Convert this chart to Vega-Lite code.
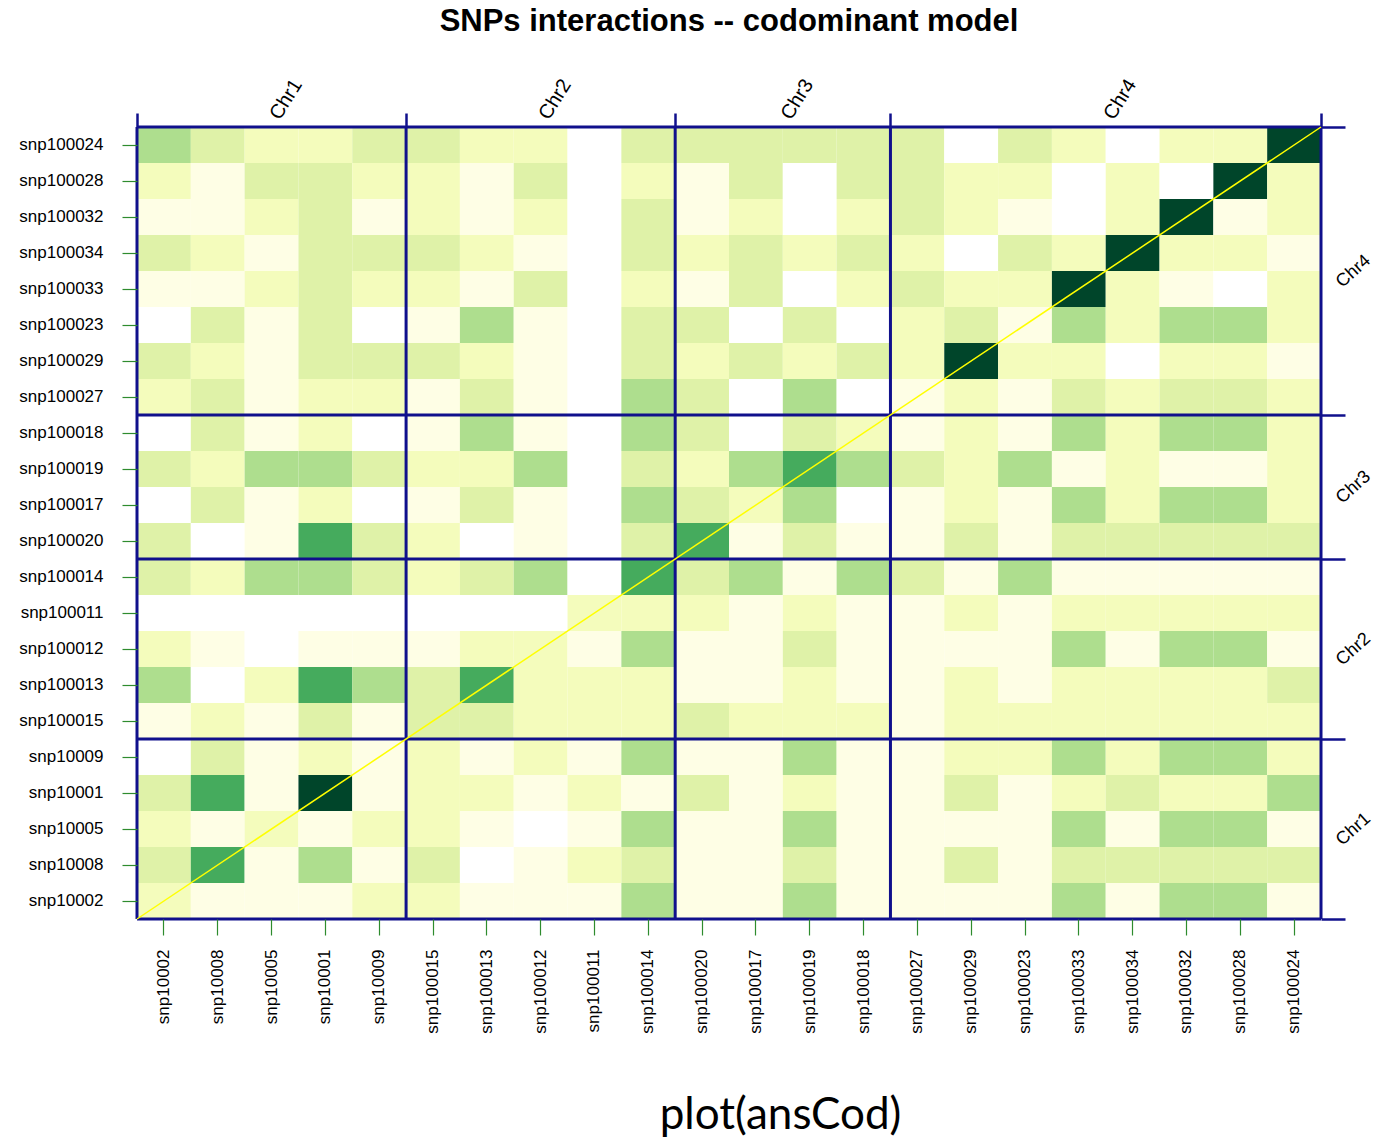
{
  "$schema": "https://vega.github.io/schema/vega-lite/v6.json",
  "width": 1184,
  "height": 792,
  "autosize": "none",
  "padding": {"left": 137, "top": 127, "right": 55, "bottom": 222},
  "background": "white",
  "title": {"text": "SNPs interactions -- codominant model", "font": "Liberation Sans", "fontSize": 31, "fontWeight": "bold", "color": "black", "anchor": "middle", "offset": 37},
  "config": {"view": {"stroke": null}, "axis": {"grid": false}},
  "datasets": {
    "bounds": [{"b": 0}, {"b": 5}, {"b": 10}, {"b": 14}, {"b": 22}],
    "diag": [{"p": 0}, {"p": 22}],
    "cells": [
{"r":"snp100024","c":"snp10002","v":4},{"r":"snp100024","c":"snp10008","v":3},{"r":"snp100024","c":"snp10005","v":2},{"r":"snp100024","c":"snp10001","v":2},{"r":"snp100024","c":"snp10009","v":3},{"r":"snp100024","c":"snp100015","v":3},{"r":"snp100024","c":"snp100013","v":2},{"r":"snp100024","c":"snp100012","v":2},{"r":"snp100024","c":"snp100011","v":0},{"r":"snp100024","c":"snp100014","v":3},{"r":"snp100024","c":"snp100020","v":3},{"r":"snp100024","c":"snp100017","v":3},{"r":"snp100024","c":"snp100019","v":3},{"r":"snp100024","c":"snp100018","v":3},{"r":"snp100024","c":"snp100027","v":3},{"r":"snp100024","c":"snp100029","v":0},{"r":"snp100024","c":"snp100023","v":3},{"r":"snp100024","c":"snp100033","v":2},{"r":"snp100024","c":"snp100034","v":0},{"r":"snp100024","c":"snp100032","v":2},{"r":"snp100024","c":"snp100028","v":2},{"r":"snp100024","c":"snp100024","v":6},
{"r":"snp100028","c":"snp10002","v":2},{"r":"snp100028","c":"snp10008","v":1},{"r":"snp100028","c":"snp10005","v":3},{"r":"snp100028","c":"snp10001","v":3},{"r":"snp100028","c":"snp10009","v":2},{"r":"snp100028","c":"snp100015","v":2},{"r":"snp100028","c":"snp100013","v":1},{"r":"snp100028","c":"snp100012","v":3},{"r":"snp100028","c":"snp100011","v":0},{"r":"snp100028","c":"snp100014","v":2},{"r":"snp100028","c":"snp100020","v":1},{"r":"snp100028","c":"snp100017","v":3},{"r":"snp100028","c":"snp100019","v":0},{"r":"snp100028","c":"snp100018","v":3},{"r":"snp100028","c":"snp100027","v":3},{"r":"snp100028","c":"snp100029","v":2},{"r":"snp100028","c":"snp100023","v":2},{"r":"snp100028","c":"snp100033","v":0},{"r":"snp100028","c":"snp100034","v":2},{"r":"snp100028","c":"snp100032","v":0},{"r":"snp100028","c":"snp100028","v":6},{"r":"snp100028","c":"snp100024","v":2},
{"r":"snp100032","c":"snp10002","v":1},{"r":"snp100032","c":"snp10008","v":1},{"r":"snp100032","c":"snp10005","v":2},{"r":"snp100032","c":"snp10001","v":3},{"r":"snp100032","c":"snp10009","v":1},{"r":"snp100032","c":"snp100015","v":2},{"r":"snp100032","c":"snp100013","v":1},{"r":"snp100032","c":"snp100012","v":2},{"r":"snp100032","c":"snp100011","v":0},{"r":"snp100032","c":"snp100014","v":3},{"r":"snp100032","c":"snp100020","v":1},{"r":"snp100032","c":"snp100017","v":2},{"r":"snp100032","c":"snp100019","v":0},{"r":"snp100032","c":"snp100018","v":2},{"r":"snp100032","c":"snp100027","v":3},{"r":"snp100032","c":"snp100029","v":2},{"r":"snp100032","c":"snp100023","v":1},{"r":"snp100032","c":"snp100033","v":0},{"r":"snp100032","c":"snp100034","v":2},{"r":"snp100032","c":"snp100032","v":6},{"r":"snp100032","c":"snp100028","v":1},{"r":"snp100032","c":"snp100024","v":2},
{"r":"snp100034","c":"snp10002","v":3},{"r":"snp100034","c":"snp10008","v":2},{"r":"snp100034","c":"snp10005","v":1},{"r":"snp100034","c":"snp10001","v":3},{"r":"snp100034","c":"snp10009","v":3},{"r":"snp100034","c":"snp100015","v":3},{"r":"snp100034","c":"snp100013","v":2},{"r":"snp100034","c":"snp100012","v":1},{"r":"snp100034","c":"snp100011","v":0},{"r":"snp100034","c":"snp100014","v":3},{"r":"snp100034","c":"snp100020","v":2},{"r":"snp100034","c":"snp100017","v":3},{"r":"snp100034","c":"snp100019","v":2},{"r":"snp100034","c":"snp100018","v":3},{"r":"snp100034","c":"snp100027","v":2},{"r":"snp100034","c":"snp100029","v":0},{"r":"snp100034","c":"snp100023","v":3},{"r":"snp100034","c":"snp100033","v":2},{"r":"snp100034","c":"snp100034","v":6},{"r":"snp100034","c":"snp100032","v":2},{"r":"snp100034","c":"snp100028","v":2},{"r":"snp100034","c":"snp100024","v":1},
{"r":"snp100033","c":"snp10002","v":1},{"r":"snp100033","c":"snp10008","v":1},{"r":"snp100033","c":"snp10005","v":2},{"r":"snp100033","c":"snp10001","v":3},{"r":"snp100033","c":"snp10009","v":2},{"r":"snp100033","c":"snp100015","v":2},{"r":"snp100033","c":"snp100013","v":1},{"r":"snp100033","c":"snp100012","v":3},{"r":"snp100033","c":"snp100011","v":0},{"r":"snp100033","c":"snp100014","v":2},{"r":"snp100033","c":"snp100020","v":1},{"r":"snp100033","c":"snp100017","v":3},{"r":"snp100033","c":"snp100019","v":0},{"r":"snp100033","c":"snp100018","v":2},{"r":"snp100033","c":"snp100027","v":3},{"r":"snp100033","c":"snp100029","v":2},{"r":"snp100033","c":"snp100023","v":2},{"r":"snp100033","c":"snp100033","v":6},{"r":"snp100033","c":"snp100034","v":2},{"r":"snp100033","c":"snp100032","v":1},{"r":"snp100033","c":"snp100028","v":0},{"r":"snp100033","c":"snp100024","v":2},
{"r":"snp100023","c":"snp10002","v":0},{"r":"snp100023","c":"snp10008","v":3},{"r":"snp100023","c":"snp10005","v":1},{"r":"snp100023","c":"snp10001","v":3},{"r":"snp100023","c":"snp10009","v":0},{"r":"snp100023","c":"snp100015","v":1},{"r":"snp100023","c":"snp100013","v":4},{"r":"snp100023","c":"snp100012","v":1},{"r":"snp100023","c":"snp100011","v":0},{"r":"snp100023","c":"snp100014","v":3},{"r":"snp100023","c":"snp100020","v":3},{"r":"snp100023","c":"snp100017","v":0},{"r":"snp100023","c":"snp100019","v":3},{"r":"snp100023","c":"snp100018","v":0},{"r":"snp100023","c":"snp100027","v":2},{"r":"snp100023","c":"snp100029","v":3},{"r":"snp100023","c":"snp100023","v":1},{"r":"snp100023","c":"snp100033","v":4},{"r":"snp100023","c":"snp100034","v":2},{"r":"snp100023","c":"snp100032","v":4},{"r":"snp100023","c":"snp100028","v":4},{"r":"snp100023","c":"snp100024","v":2},
{"r":"snp100029","c":"snp10002","v":3},{"r":"snp100029","c":"snp10008","v":2},{"r":"snp100029","c":"snp10005","v":1},{"r":"snp100029","c":"snp10001","v":3},{"r":"snp100029","c":"snp10009","v":3},{"r":"snp100029","c":"snp100015","v":3},{"r":"snp100029","c":"snp100013","v":2},{"r":"snp100029","c":"snp100012","v":1},{"r":"snp100029","c":"snp100011","v":0},{"r":"snp100029","c":"snp100014","v":3},{"r":"snp100029","c":"snp100020","v":2},{"r":"snp100029","c":"snp100017","v":3},{"r":"snp100029","c":"snp100019","v":2},{"r":"snp100029","c":"snp100018","v":3},{"r":"snp100029","c":"snp100027","v":2},{"r":"snp100029","c":"snp100029","v":6},{"r":"snp100029","c":"snp100023","v":2},{"r":"snp100029","c":"snp100033","v":2},{"r":"snp100029","c":"snp100034","v":0},{"r":"snp100029","c":"snp100032","v":2},{"r":"snp100029","c":"snp100028","v":2},{"r":"snp100029","c":"snp100024","v":1},
{"r":"snp100027","c":"snp10002","v":2},{"r":"snp100027","c":"snp10008","v":3},{"r":"snp100027","c":"snp10005","v":1},{"r":"snp100027","c":"snp10001","v":2},{"r":"snp100027","c":"snp10009","v":2},{"r":"snp100027","c":"snp100015","v":1},{"r":"snp100027","c":"snp100013","v":3},{"r":"snp100027","c":"snp100012","v":1},{"r":"snp100027","c":"snp100011","v":0},{"r":"snp100027","c":"snp100014","v":4},{"r":"snp100027","c":"snp100020","v":3},{"r":"snp100027","c":"snp100017","v":0},{"r":"snp100027","c":"snp100019","v":4},{"r":"snp100027","c":"snp100018","v":0},{"r":"snp100027","c":"snp100027","v":1},{"r":"snp100027","c":"snp100029","v":2},{"r":"snp100027","c":"snp100023","v":1},{"r":"snp100027","c":"snp100033","v":3},{"r":"snp100027","c":"snp100034","v":2},{"r":"snp100027","c":"snp100032","v":3},{"r":"snp100027","c":"snp100028","v":3},{"r":"snp100027","c":"snp100024","v":2},
{"r":"snp100018","c":"snp10002","v":0},{"r":"snp100018","c":"snp10008","v":3},{"r":"snp100018","c":"snp10005","v":1},{"r":"snp100018","c":"snp10001","v":2},{"r":"snp100018","c":"snp10009","v":0},{"r":"snp100018","c":"snp100015","v":1},{"r":"snp100018","c":"snp100013","v":4},{"r":"snp100018","c":"snp100012","v":1},{"r":"snp100018","c":"snp100011","v":0},{"r":"snp100018","c":"snp100014","v":4},{"r":"snp100018","c":"snp100020","v":3},{"r":"snp100018","c":"snp100017","v":0},{"r":"snp100018","c":"snp100019","v":3},{"r":"snp100018","c":"snp100018","v":2},{"r":"snp100018","c":"snp100027","v":1},{"r":"snp100018","c":"snp100029","v":2},{"r":"snp100018","c":"snp100023","v":1},{"r":"snp100018","c":"snp100033","v":4},{"r":"snp100018","c":"snp100034","v":2},{"r":"snp100018","c":"snp100032","v":4},{"r":"snp100018","c":"snp100028","v":4},{"r":"snp100018","c":"snp100024","v":2},
{"r":"snp100019","c":"snp10002","v":3},{"r":"snp100019","c":"snp10008","v":2},{"r":"snp100019","c":"snp10005","v":4},{"r":"snp100019","c":"snp10001","v":4},{"r":"snp100019","c":"snp10009","v":3},{"r":"snp100019","c":"snp100015","v":2},{"r":"snp100019","c":"snp100013","v":2},{"r":"snp100019","c":"snp100012","v":4},{"r":"snp100019","c":"snp100011","v":0},{"r":"snp100019","c":"snp100014","v":3},{"r":"snp100019","c":"snp100020","v":2},{"r":"snp100019","c":"snp100017","v":4},{"r":"snp100019","c":"snp100019","v":5},{"r":"snp100019","c":"snp100018","v":4},{"r":"snp100019","c":"snp100027","v":3},{"r":"snp100019","c":"snp100029","v":2},{"r":"snp100019","c":"snp100023","v":4},{"r":"snp100019","c":"snp100033","v":1},{"r":"snp100019","c":"snp100034","v":2},{"r":"snp100019","c":"snp100032","v":1},{"r":"snp100019","c":"snp100028","v":1},{"r":"snp100019","c":"snp100024","v":2},
{"r":"snp100017","c":"snp10002","v":0},{"r":"snp100017","c":"snp10008","v":3},{"r":"snp100017","c":"snp10005","v":1},{"r":"snp100017","c":"snp10001","v":2},{"r":"snp100017","c":"snp10009","v":0},{"r":"snp100017","c":"snp100015","v":1},{"r":"snp100017","c":"snp100013","v":3},{"r":"snp100017","c":"snp100012","v":1},{"r":"snp100017","c":"snp100011","v":0},{"r":"snp100017","c":"snp100014","v":4},{"r":"snp100017","c":"snp100020","v":3},{"r":"snp100017","c":"snp100017","v":2},{"r":"snp100017","c":"snp100019","v":4},{"r":"snp100017","c":"snp100018","v":0},{"r":"snp100017","c":"snp100027","v":1},{"r":"snp100017","c":"snp100029","v":2},{"r":"snp100017","c":"snp100023","v":1},{"r":"snp100017","c":"snp100033","v":4},{"r":"snp100017","c":"snp100034","v":2},{"r":"snp100017","c":"snp100032","v":4},{"r":"snp100017","c":"snp100028","v":4},{"r":"snp100017","c":"snp100024","v":2},
{"r":"snp100020","c":"snp10002","v":3},{"r":"snp100020","c":"snp10008","v":0},{"r":"snp100020","c":"snp10005","v":1},{"r":"snp100020","c":"snp10001","v":5},{"r":"snp100020","c":"snp10009","v":3},{"r":"snp100020","c":"snp100015","v":2},{"r":"snp100020","c":"snp100013","v":0},{"r":"snp100020","c":"snp100012","v":1},{"r":"snp100020","c":"snp100011","v":0},{"r":"snp100020","c":"snp100014","v":3},{"r":"snp100020","c":"snp100020","v":5},{"r":"snp100020","c":"snp100017","v":1},{"r":"snp100020","c":"snp100019","v":3},{"r":"snp100020","c":"snp100018","v":1},{"r":"snp100020","c":"snp100027","v":1},{"r":"snp100020","c":"snp100029","v":3},{"r":"snp100020","c":"snp100023","v":1},{"r":"snp100020","c":"snp100033","v":3},{"r":"snp100020","c":"snp100034","v":3},{"r":"snp100020","c":"snp100032","v":3},{"r":"snp100020","c":"snp100028","v":3},{"r":"snp100020","c":"snp100024","v":3},
{"r":"snp100014","c":"snp10002","v":3},{"r":"snp100014","c":"snp10008","v":2},{"r":"snp100014","c":"snp10005","v":4},{"r":"snp100014","c":"snp10001","v":4},{"r":"snp100014","c":"snp10009","v":3},{"r":"snp100014","c":"snp100015","v":2},{"r":"snp100014","c":"snp100013","v":3},{"r":"snp100014","c":"snp100012","v":4},{"r":"snp100014","c":"snp100011","v":0},{"r":"snp100014","c":"snp100014","v":5},{"r":"snp100014","c":"snp100020","v":3},{"r":"snp100014","c":"snp100017","v":4},{"r":"snp100014","c":"snp100019","v":1},{"r":"snp100014","c":"snp100018","v":4},{"r":"snp100014","c":"snp100027","v":3},{"r":"snp100014","c":"snp100029","v":1},{"r":"snp100014","c":"snp100023","v":4},{"r":"snp100014","c":"snp100033","v":1},{"r":"snp100014","c":"snp100034","v":1},{"r":"snp100014","c":"snp100032","v":1},{"r":"snp100014","c":"snp100028","v":1},{"r":"snp100014","c":"snp100024","v":1},
{"r":"snp100011","c":"snp10002","v":0},{"r":"snp100011","c":"snp10008","v":0},{"r":"snp100011","c":"snp10005","v":0},{"r":"snp100011","c":"snp10001","v":0},{"r":"snp100011","c":"snp10009","v":0},{"r":"snp100011","c":"snp100015","v":0},{"r":"snp100011","c":"snp100013","v":0},{"r":"snp100011","c":"snp100012","v":0},{"r":"snp100011","c":"snp100011","v":2},{"r":"snp100011","c":"snp100014","v":2},{"r":"snp100011","c":"snp100020","v":2},{"r":"snp100011","c":"snp100017","v":1},{"r":"snp100011","c":"snp100019","v":2},{"r":"snp100011","c":"snp100018","v":1},{"r":"snp100011","c":"snp100027","v":1},{"r":"snp100011","c":"snp100029","v":2},{"r":"snp100011","c":"snp100023","v":1},{"r":"snp100011","c":"snp100033","v":2},{"r":"snp100011","c":"snp100034","v":2},{"r":"snp100011","c":"snp100032","v":2},{"r":"snp100011","c":"snp100028","v":2},{"r":"snp100011","c":"snp100024","v":2},
{"r":"snp100012","c":"snp10002","v":2},{"r":"snp100012","c":"snp10008","v":1},{"r":"snp100012","c":"snp10005","v":0},{"r":"snp100012","c":"snp10001","v":1},{"r":"snp100012","c":"snp10009","v":1},{"r":"snp100012","c":"snp100015","v":1},{"r":"snp100012","c":"snp100013","v":2},{"r":"snp100012","c":"snp100012","v":2},{"r":"snp100012","c":"snp100011","v":1},{"r":"snp100012","c":"snp100014","v":4},{"r":"snp100012","c":"snp100020","v":1},{"r":"snp100012","c":"snp100017","v":1},{"r":"snp100012","c":"snp100019","v":3},{"r":"snp100012","c":"snp100018","v":1},{"r":"snp100012","c":"snp100027","v":1},{"r":"snp100012","c":"snp100029","v":1},{"r":"snp100012","c":"snp100023","v":1},{"r":"snp100012","c":"snp100033","v":4},{"r":"snp100012","c":"snp100034","v":1},{"r":"snp100012","c":"snp100032","v":4},{"r":"snp100012","c":"snp100028","v":4},{"r":"snp100012","c":"snp100024","v":1},
{"r":"snp100013","c":"snp10002","v":4},{"r":"snp100013","c":"snp10008","v":0},{"r":"snp100013","c":"snp10005","v":2},{"r":"snp100013","c":"snp10001","v":5},{"r":"snp100013","c":"snp10009","v":4},{"r":"snp100013","c":"snp100015","v":3},{"r":"snp100013","c":"snp100013","v":5},{"r":"snp100013","c":"snp100012","v":2},{"r":"snp100013","c":"snp100011","v":2},{"r":"snp100013","c":"snp100014","v":2},{"r":"snp100013","c":"snp100020","v":1},{"r":"snp100013","c":"snp100017","v":1},{"r":"snp100013","c":"snp100019","v":2},{"r":"snp100013","c":"snp100018","v":1},{"r":"snp100013","c":"snp100027","v":1},{"r":"snp100013","c":"snp100029","v":2},{"r":"snp100013","c":"snp100023","v":1},{"r":"snp100013","c":"snp100033","v":2},{"r":"snp100013","c":"snp100034","v":2},{"r":"snp100013","c":"snp100032","v":2},{"r":"snp100013","c":"snp100028","v":2},{"r":"snp100013","c":"snp100024","v":3},
{"r":"snp100015","c":"snp10002","v":1},{"r":"snp100015","c":"snp10008","v":2},{"r":"snp100015","c":"snp10005","v":1},{"r":"snp100015","c":"snp10001","v":3},{"r":"snp100015","c":"snp10009","v":1},{"r":"snp100015","c":"snp100015","v":3},{"r":"snp100015","c":"snp100013","v":3},{"r":"snp100015","c":"snp100012","v":2},{"r":"snp100015","c":"snp100011","v":2},{"r":"snp100015","c":"snp100014","v":2},{"r":"snp100015","c":"snp100020","v":3},{"r":"snp100015","c":"snp100017","v":2},{"r":"snp100015","c":"snp100019","v":2},{"r":"snp100015","c":"snp100018","v":2},{"r":"snp100015","c":"snp100027","v":1},{"r":"snp100015","c":"snp100029","v":2},{"r":"snp100015","c":"snp100023","v":2},{"r":"snp100015","c":"snp100033","v":2},{"r":"snp100015","c":"snp100034","v":2},{"r":"snp100015","c":"snp100032","v":2},{"r":"snp100015","c":"snp100028","v":2},{"r":"snp100015","c":"snp100024","v":2},
{"r":"snp10009","c":"snp10002","v":0},{"r":"snp10009","c":"snp10008","v":3},{"r":"snp10009","c":"snp10005","v":1},{"r":"snp10009","c":"snp10001","v":2},{"r":"snp10009","c":"snp10009","v":1},{"r":"snp10009","c":"snp100015","v":2},{"r":"snp10009","c":"snp100013","v":1},{"r":"snp10009","c":"snp100012","v":2},{"r":"snp10009","c":"snp100011","v":1},{"r":"snp10009","c":"snp100014","v":4},{"r":"snp10009","c":"snp100020","v":1},{"r":"snp10009","c":"snp100017","v":1},{"r":"snp10009","c":"snp100019","v":4},{"r":"snp10009","c":"snp100018","v":1},{"r":"snp10009","c":"snp100027","v":1},{"r":"snp10009","c":"snp100029","v":2},{"r":"snp10009","c":"snp100023","v":2},{"r":"snp10009","c":"snp100033","v":4},{"r":"snp10009","c":"snp100034","v":2},{"r":"snp10009","c":"snp100032","v":4},{"r":"snp10009","c":"snp100028","v":4},{"r":"snp10009","c":"snp100024","v":2},
{"r":"snp10001","c":"snp10002","v":3},{"r":"snp10001","c":"snp10008","v":5},{"r":"snp10001","c":"snp10005","v":1},{"r":"snp10001","c":"snp10001","v":6},{"r":"snp10001","c":"snp10009","v":1},{"r":"snp10001","c":"snp100015","v":2},{"r":"snp10001","c":"snp100013","v":2},{"r":"snp10001","c":"snp100012","v":1},{"r":"snp10001","c":"snp100011","v":2},{"r":"snp10001","c":"snp100014","v":1},{"r":"snp10001","c":"snp100020","v":3},{"r":"snp10001","c":"snp100017","v":1},{"r":"snp10001","c":"snp100019","v":2},{"r":"snp10001","c":"snp100018","v":1},{"r":"snp10001","c":"snp100027","v":1},{"r":"snp10001","c":"snp100029","v":3},{"r":"snp10001","c":"snp100023","v":1},{"r":"snp10001","c":"snp100033","v":2},{"r":"snp10001","c":"snp100034","v":3},{"r":"snp10001","c":"snp100032","v":2},{"r":"snp10001","c":"snp100028","v":2},{"r":"snp10001","c":"snp100024","v":4},
{"r":"snp10005","c":"snp10002","v":2},{"r":"snp10005","c":"snp10008","v":1},{"r":"snp10005","c":"snp10005","v":2},{"r":"snp10005","c":"snp10001","v":1},{"r":"snp10005","c":"snp10009","v":2},{"r":"snp10005","c":"snp100015","v":2},{"r":"snp10005","c":"snp100013","v":1},{"r":"snp10005","c":"snp100012","v":0},{"r":"snp10005","c":"snp100011","v":1},{"r":"snp10005","c":"snp100014","v":4},{"r":"snp10005","c":"snp100020","v":1},{"r":"snp10005","c":"snp100017","v":1},{"r":"snp10005","c":"snp100019","v":4},{"r":"snp10005","c":"snp100018","v":1},{"r":"snp10005","c":"snp100027","v":1},{"r":"snp10005","c":"snp100029","v":1},{"r":"snp10005","c":"snp100023","v":1},{"r":"snp10005","c":"snp100033","v":4},{"r":"snp10005","c":"snp100034","v":1},{"r":"snp10005","c":"snp100032","v":4},{"r":"snp10005","c":"snp100028","v":4},{"r":"snp10005","c":"snp100024","v":1},
{"r":"snp10008","c":"snp10002","v":3},{"r":"snp10008","c":"snp10008","v":5},{"r":"snp10008","c":"snp10005","v":1},{"r":"snp10008","c":"snp10001","v":4},{"r":"snp10008","c":"snp10009","v":1},{"r":"snp10008","c":"snp100015","v":3},{"r":"snp10008","c":"snp100013","v":0},{"r":"snp10008","c":"snp100012","v":1},{"r":"snp10008","c":"snp100011","v":2},{"r":"snp10008","c":"snp100014","v":3},{"r":"snp10008","c":"snp100020","v":1},{"r":"snp10008","c":"snp100017","v":1},{"r":"snp10008","c":"snp100019","v":3},{"r":"snp10008","c":"snp100018","v":1},{"r":"snp10008","c":"snp100027","v":1},{"r":"snp10008","c":"snp100029","v":3},{"r":"snp10008","c":"snp100023","v":1},{"r":"snp10008","c":"snp100033","v":3},{"r":"snp10008","c":"snp100034","v":3},{"r":"snp10008","c":"snp100032","v":3},{"r":"snp10008","c":"snp100028","v":3},{"r":"snp10008","c":"snp100024","v":3},
{"r":"snp10002","c":"snp10002","v":2},{"r":"snp10002","c":"snp10008","v":1},{"r":"snp10002","c":"snp10005","v":1},{"r":"snp10002","c":"snp10001","v":1},{"r":"snp10002","c":"snp10009","v":2},{"r":"snp10002","c":"snp100015","v":2},{"r":"snp10002","c":"snp100013","v":1},{"r":"snp10002","c":"snp100012","v":1},{"r":"snp10002","c":"snp100011","v":1},{"r":"snp10002","c":"snp100014","v":4},{"r":"snp10002","c":"snp100020","v":1},{"r":"snp10002","c":"snp100017","v":1},{"r":"snp10002","c":"snp100019","v":4},{"r":"snp10002","c":"snp100018","v":1},{"r":"snp10002","c":"snp100027","v":1},{"r":"snp10002","c":"snp100029","v":1},{"r":"snp10002","c":"snp100023","v":1},{"r":"snp10002","c":"snp100033","v":4},{"r":"snp10002","c":"snp100034","v":1},{"r":"snp10002","c":"snp100032","v":4},{"r":"snp10002","c":"snp100028","v":4},{"r":"snp10002","c":"snp100024","v":1}
    ]
  },
  "layer": [
    {
      "data": {"name": "cells"},
      "mark": {"type": "rect"},
      "encoding": {
        "x": {"field": "c", "type": "nominal",
          "scale": {"domain": ["snp10002","snp10008","snp10005","snp10001","snp10009","snp100015","snp100013","snp100012","snp100011","snp100014","snp100020","snp100017","snp100019","snp100018","snp100027","snp100029","snp100023","snp100033","snp100034","snp100032","snp100028","snp100024"], "paddingInner": 0, "paddingOuter": 0},
          "axis": {"orient": "bottom", "title": "plot(ansCod)", "labelAngle": 270, "labelAlign": "right", "labelBaseline": "middle", "labelFont": "Liberation Sans", "labelFontSize": 17, "labelColor": "black", "tickColor": "#2E8B2E", "tickSize": 16, "tickWidth": 1.2, "domain": false, "labelPadding": 14, "titleFont": "Lato", "titleFontSize": 44, "titleFontWeight": "normal", "titleColor": "black", "titlePadding": 60, "titleX": 643}},
        "y": {"field": "r", "type": "nominal",
          "scale": {"domain": ["snp100024","snp100028","snp100032","snp100034","snp100033","snp100023","snp100029","snp100027","snp100018","snp100019","snp100017","snp100020","snp100014","snp100011","snp100012","snp100013","snp100015","snp10009","snp10001","snp10005","snp10008","snp10002"], "paddingInner": 0, "paddingOuter": 0},
          "axis": {"orient": "left", "title": null, "labelFont": "Liberation Sans", "labelFontSize": 17, "labelColor": "black", "tickColor": "#2E8B2E", "tickSize": 15, "tickWidth": 1.2, "domain": false, "labelPadding": 19}},
        "color": {"field": "v", "type": "ordinal",
          "scale": {"domain": [0,1,2,3,4,5,6], "range": ["#FFFFFF","#FEFEE5","#F4FCBC","#DFF2A8","#AEDE8E","#45AB5D","#00452A"]},
          "legend": null}
      }
    },
    {
      "layer": [
        {
          "data": {"name": "bounds"},
          "mark": {"type": "rule", "color": "#10108C", "strokeWidth": 3},
          "encoding": {
            "x": {"field": "b", "type": "quantitative",
              "scale": {"domain": [0, 22], "nice": false, "zero": false},
              "axis": {"orient": "top", "title": null, "values": [0, 2.5, 5, 7.5, 10, 12, 14, 18, 22],
                "labelExpr": "datum.value == 2.5 ? 'Chr1' : datum.value == 7.5 ? 'Chr2' : datum.value == 12 ? 'Chr3' : datum.value == 18 ? 'Chr4' : ''",
                "tickOpacity": {"condition": {"test": "datum.value == 0 || datum.value == 5 || datum.value == 10 || datum.value == 14 || datum.value == 22", "value": 1}, "value": 0},
                "tickColor": "#10108C", "tickWidth": 2.5, "tickSize": 14, "domain": false, "grid": false,
                "labelAngle": -58, "labelAlign": "center", "labelBaseline": "middle", "labelPadding": 14, "labelOffset": 14,
                "labelFont": "Liberation Sans", "labelFontSize": 20, "labelColor": "black", "labelOverlap": false, "labelFlush": false}}
          }
        },
        {
          "data": {"name": "bounds"},
          "mark": {"type": "rule", "color": "#10108C", "strokeWidth": 3},
          "encoding": {
            "y": {"field": "b", "type": "quantitative",
              "scale": {"domain": [0, 22], "nice": false, "zero": false},
              "axis": {"orient": "right", "title": null, "values": [0, 2.5, 5, 7.5, 10, 12, 14, 18, 22],
                "labelExpr": "datum.value == 2.5 ? 'Chr1' : datum.value == 7.5 ? 'Chr2' : datum.value == 12 ? 'Chr3' : datum.value == 18 ? 'Chr4' : ''",
                "tickOpacity": {"condition": {"test": "datum.value == 0 || datum.value == 5 || datum.value == 10 || datum.value == 14 || datum.value == 22", "value": 1}, "value": 0},
                "tickColor": "#10108C", "tickWidth": 2.5, "tickSize": 24, "domain": false, "grid": false,
                "labelAngle": -42, "labelAlign": "center", "labelBaseline": "middle", "labelPadding": 8,
                "labelFont": "Liberation Sans", "labelFontSize": 18, "labelColor": "black", "labelOverlap": false, "labelFlush": false}}
          }
        },
        {
          "data": {"name": "diag"},
          "mark": {"type": "line", "color": "#FFFF00", "strokeWidth": 1.5},
          "encoding": {
            "x": {"field": "p", "type": "quantitative"},
            "y": {"field": "p", "type": "quantitative"}
          }
        }
      ]
    }
  ],
  "resolve": {"scale": {"x": "independent", "y": "independent"}}
}
